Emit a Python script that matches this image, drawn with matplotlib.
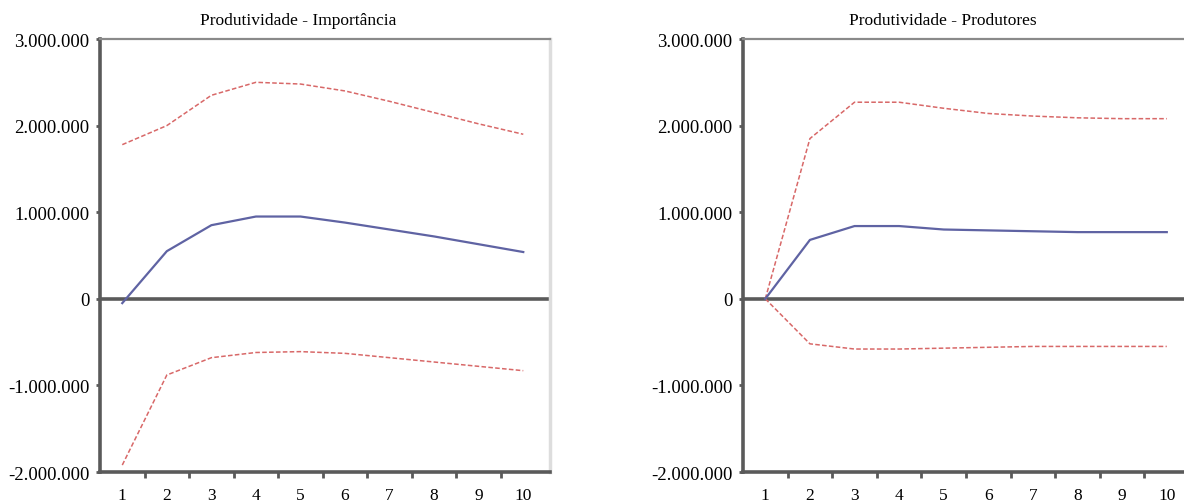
import numpy as np
import matplotlib
matplotlib.use('Agg')
import matplotlib.pyplot as plt
from matplotlib.ticker import FuncFormatter

# Períodos
periodos = [1, 2, 3, 4, 5, 6, 7, 8, 9, 10]

# Produtividade - Importância
imp_superior = [1780000, 2000000, 2350000, 2500000, 2480000, 2400000, 2280000, 2150000, 2020000, 1900000]
imp_resposta = [-50000, 550000, 850000, 950000, 950000, 880000, 800000, 720000, 630000, 540000]
imp_inferior = [-1920000, -880000, -680000, -620000, -610000, -630000, -680000, -730000, -780000, -830000]

# Produtividade - Produtores
prod_superior = [0, 1850000, 2270000, 2270000, 2200000, 2140000, 2110000, 2090000, 2080000, 2080000]
prod_resposta = [0, 680000, 840000, 840000, 800000, 790000, 780000, 770000, 770000, 770000]
prod_inferior = [0, -520000, -580000, -580000, -570000, -560000, -550000, -550000, -550000, -550000]

titulos = ['Produtividade - Importância', 'Produtividade - Produtores']
yticks = [-2000000, -1000000, 0, 1000000, 2000000, 3000000]

plt.rcParams['font.family'] = ['Liberation Serif', 'DejaVu Serif']

COR_LINHA = '#5f63a3'
COR_BANDA = '#d86868'
COR_EIXO = '#5a5a5a'


def formatar(v, pos):
    return '{:,.0f}'.format(v).replace(',', '.')


def desenhar(ax, sup, resp, inf, titulo, xmax):
    ax.axhline(0, color=COR_EIXO, lw=2.6, zorder=1)
    ax.plot(periodos, sup, color=COR_BANDA, lw=1.1, ls=(0, (3, 1.5)), zorder=3)
    ax.plot(periodos, inf, color=COR_BANDA, lw=1.1, ls=(0, (3, 1.5)), zorder=3)
    ax.plot(periodos, resp, color=COR_LINHA, lw=1.6, zorder=4)
    ax.set_xlim(0.5, xmax)
    ax.set_ylim(-2000000, 3000000)
    ax.set_yticks(yticks)
    ax.yaxis.set_major_formatter(FuncFormatter(formatar))
    ax.set_xticks(periodos)
    ax.set_xticks([p + 0.5 for p in periodos[:-1]], minor=True)
    ax.tick_params(axis='x', which='major', length=0, pad=11, labelsize=12.5)
    ax.tick_params(axis='x', which='minor', length=4, width=2, color=COR_EIXO, direction='out')
    ax.tick_params(axis='y', length=3, width=2, color=COR_EIXO, pad=4.5, labelsize=13.5)
    ax.spines['left'].set_color(COR_EIXO)
    ax.spines['left'].set_linewidth(2.6)
    ax.spines['bottom'].set_color(COR_EIXO)
    ax.spines['bottom'].set_linewidth(2.6)
    ax.spines['top'].set_color('#8a8a8a')
    ax.spines['top'].set_linewidth(1.6)
    ax.spines['right'].set_color('#dddddd')
    ax.spines['right'].set_linewidth(2.5)
    ax.text(0.44, 1.043, titulo, transform=ax.transAxes, ha='center', va='center', fontsize=12.5)


fig = plt.figure(figsize=(11.84, 5.02), dpi=100)
W, H = 1184.0, 502.0
ax1 = fig.add_axes([100 / W, 29 / H, 450 / W, 433 / H])
ax2 = fig.add_axes([743 / W, 29 / H, 455 / W, 433 / H])

desenhar(ax1, imp_superior, imp_resposta, imp_inferior, titulos[0], 10.6)
desenhar(ax2, prod_superior, prod_resposta, prod_inferior, titulos[1], 10.7)

fig.savefig('out.png', dpi=100)
